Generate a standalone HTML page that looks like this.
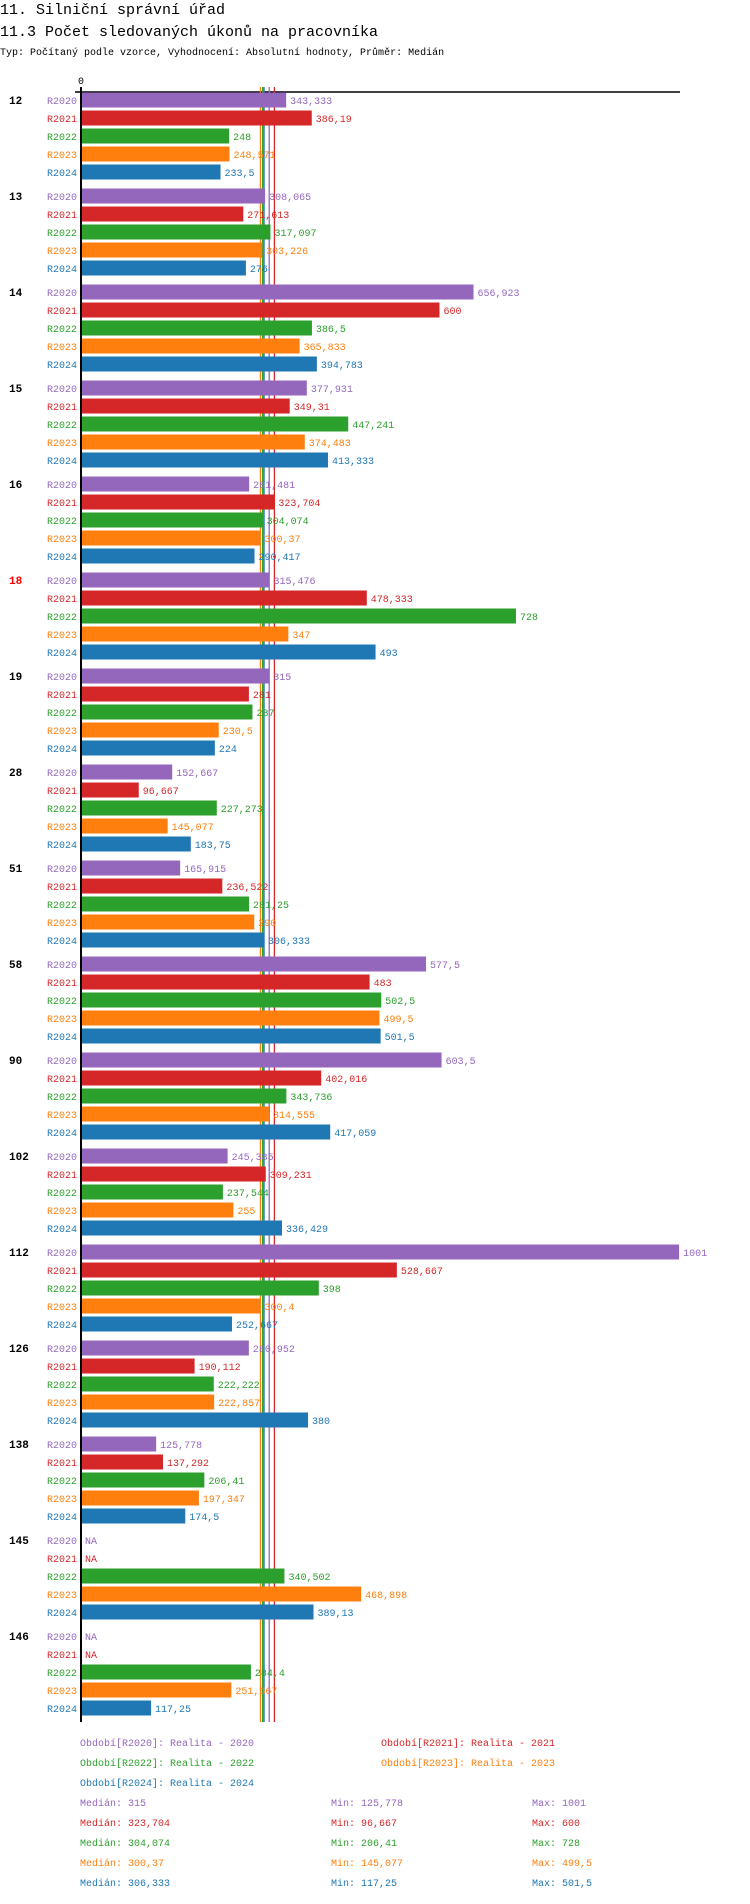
<!DOCTYPE html>
<html><head><meta charset="utf-8"><style>
body{margin:0;background:#fff;width:750px;height:1904px;overflow:hidden;font-family:"Liberation Mono",monospace}
svg{display:block}
</style></head><body>
<svg id="c" width="750" height="1904" xmlns="http://www.w3.org/2000/svg">
<text x="0" y="14" font-size="15" font-family="Liberation Mono">11. Silniční správní úřad</text>
<text x="0" y="36" font-size="15" font-family="Liberation Mono">11.3 Počet sledovaných úkonů na pracovníka</text>
<text x="0" y="55" font-size="10" font-family="Liberation Mono">Typ: Počítaný podle vzorce, Vyhodnocení: Absolutní hodnoty, Průměr: Medián</text>
</svg>
<script>
const categories=["12","13","14","15","16","18","19","28","51","58","90","102","112","126","138","145","146"];
const highlighted=["18"];
const seriesNames=["R2020","R2021","R2022","R2023","R2024"];
const seriesColors=["#9467bd","#d62728","#2ca02c","#ff7f0e","#1f77b4"];
const r2020=[343.333,308.065,656.923,377.931,281.481,315.476,315,152.667,165.915,577.5,603.5,245.385,1001,280.952,125.778,null,null];
const r2021=[386.19,271.613,600,349.31,323.704,478.333,281,96.667,236.522,483,402.016,309.231,528.667,190.112,137.292,null,null];
const r2022=[248,317.097,386.5,447.241,304.074,728,287,227.273,281.25,502.5,343.736,237.544,398,222.222,206.41,340.502,284.4];
const r2023=[248.571,303.226,365.833,374.483,300.37,347,230.5,145.077,290,499.5,314.555,255,300.4,222.857,197.347,468.898,251.667];
const r2024=[233.5,276,394.783,413.333,290.417,493,224,183.75,306.333,501.5,417.059,336.429,252.667,380,174.5,389.13,117.25];
const medians=[315,323.704,304.074,300.37,306.333];
const mins=[125.778,96.667,206.41,145.077,117.25];
const maxs=[1001,600,728,499.5,501.5];
const legendLabels=["Období[R2020]: Realita - 2020","Období[R2021]: Realita - 2021","Období[R2022]: Realita - 2022","Období[R2023]: Realita - 2023","Období[R2024]: Realita - 2024"];
const series=[r2020,r2021,r2022,r2023,r2024];

const NS="http://www.w3.org/2000/svg";
const svg=document.getElementById('c');
const X0=81,K=0.5975;
const xs=v=>X0+v*K;
const rowY=(g,s)=>100+g*96+s*18;
const fmt=v=>String(v).replace('.',',');
function mk(tag,attrs,txt){const e=document.createElementNS(NS,tag);for(const k in attrs)e.setAttribute(k,attrs[k]);if(txt!=null)e.textContent=txt;svg.appendChild(e);return e;}

let e=mk('line',{x1:75,y1:92,x2:680,y2:92,stroke:'#000','stroke-width':1.5});


e=mk('text',{x:78,y:84,'font-size':10,'font-family':'Liberation Mono'},'0');



medians.forEach((m,s)=>{
  let l=mk('line',{x1:xs(m),y1:87,x2:xs(m),y2:1722,stroke:seriesColors[s],'stroke-width':1.3});
  
  
});

categories.forEach((c,g)=>{
  const hl=highlighted.includes(c);
  let t=mk('text',{x:9,y:rowY(g,0)+4,'font-size':11,'font-weight':'bold','font-family':'Liberation Mono',fill:hl?'#f00':'#000'},c);
  
  
  series.forEach((arr,s)=>{
    const y=rowY(g,s),col=seriesColors[s],v=arr[g];
    let l=mk('text',{x:77,y:y+4,'font-size':10,'text-anchor':'end','font-family':'Liberation Mono',fill:col},seriesNames[s]);
    
    
    if(v!=null){
      let r=mk('rect',{x:X0,y:y-7.5,width:v*K,height:15,fill:col});
      
      
    }
    let vt=mk('text',{x:(v==null?X0:xs(v))+4,y:y+4,'font-size':10,'font-family':'Liberation Mono',fill:col},v==null?'NA':fmt(v));
    
    
  });
});

e=mk('line',{x1:X0,y1:87,x2:X0,y2:1722,stroke:'#000','stroke-width':2});



const legPos=[[80,1746],[381,1746],[80,1766],[381,1766],[80,1786]];
legendLabels.forEach((lb,s)=>{
  let t=mk('text',{x:legPos[s][0],y:legPos[s][1],'font-size':10,'font-family':'Liberation Mono',fill:seriesColors[s]},lb);
  
  
});
seriesNames.forEach((n,s)=>{
  const y=1806+s*20,col=seriesColors[s];
  let a=mk('text',{x:80,y:y,'font-size':10,'font-family':'Liberation Mono',fill:col},'Medián: '+fmt(medians[s]));
  
  
  let b=mk('text',{x:331,y:y,'font-size':10,'font-family':'Liberation Mono',fill:col},'Min: '+fmt(mins[s]));
  
  
  let d=mk('text',{x:532,y:y,'font-size':10,'font-family':'Liberation Mono',fill:col},'Max: '+fmt(maxs[s]));
  
  
});
</script>
</body></html>
